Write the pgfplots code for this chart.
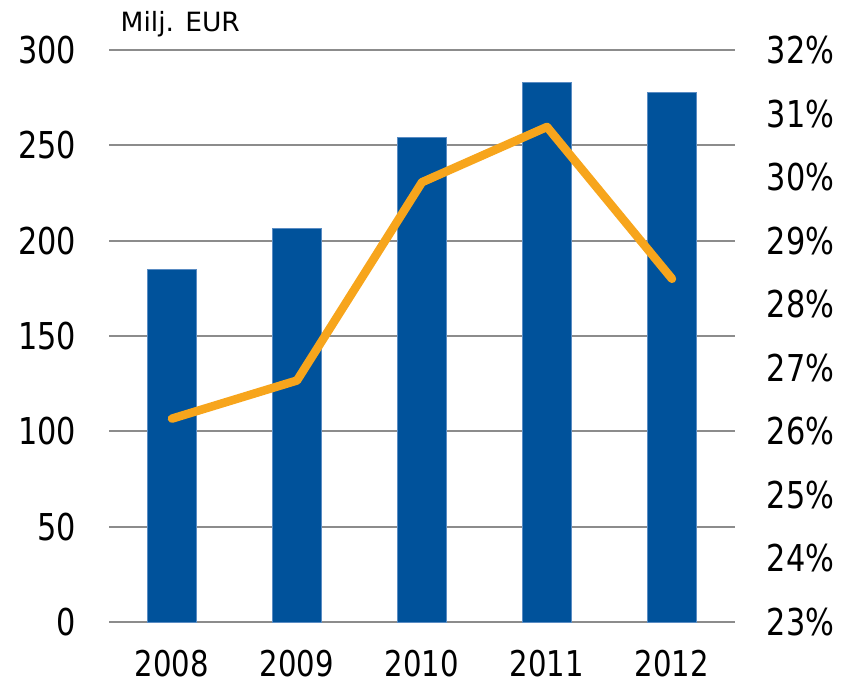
\documentclass[border=0pt]{standalone}
\usepackage{fontspec}
\setmainfont{DejaVu Sans}
\newfontfamily\tickfont[FakeStretch=0.82]{DejaVu Sans}
\usepackage{pgfplots}
\pgfplotsset{compat=1.18}

\definecolor{barblue}{RGB}{0,82,155}
\definecolor{baredge}{RGB}{90,140,195}
\definecolor{lineorange}{RGB}{247,165,28}
\definecolor{gridgray}{RGB}{140,140,140}

\begin{document}
\begin{tikzpicture}
  \path[use as bounding box] (-109.5pt,-64pt) rectangle (738.5pt,622pt);

  % bars, left axis
  \begin{axis}[
      at={(0,0)}, anchor=south west,
      scale only axis,
      width=625pt, height=572pt,
      xmin=-0.5, xmax=4.5,
      ymin=0, ymax=300,
      xtick={0,1,2,3,4},
      xticklabels={2008,2009,2010,2011,2012},
      ytick={0,50,100,150,200,250,300},
      yticklabels={0,50,100,150,200,250,300},
      axis line style={draw=none},
      tick style={draw=none},
      ymajorgrids=true,
      major grid style={gridgray, line width=1.8pt},
      xticklabel style={font=\tickfont\fontsize{35.5}{35.5}\selectfont, anchor=north, inner sep=0pt, yshift=-28pt},
      yticklabel style={font=\tickfont\fontsize{37}{37}\selectfont, anchor=east, inner sep=0pt, xshift=-33pt},
      clip=false,
    ]
    \addplot[ybar, bar width=49.5pt, fill=barblue, draw=baredge, line width=0.8pt]
      coordinates {(0,185.1) (1,206.6) (2,254.2) (3,283.0) (4,277.8)};
    \node[anchor=base west, inner sep=0pt, font=\fontsize{26.5}{26.5}\selectfont]
      at (rel axis cs:0,1) [xshift=11pt, yshift=18pt] {Milj. EUR};
  \end{axis}

  % line, right axis
  \begin{axis}[
      at={(0,0)}, anchor=south west,
      scale only axis,
      width=625pt, height=572pt,
      xmin=-0.5, xmax=4.5,
      ymin=23, ymax=32,
      axis x line=none,
      axis y line*=right,
      axis line style={draw=none},
      tick style={draw=none},
      ytick={23,24,25,26,27,28,29,30,31,32},
      yticklabels={23\%,24\%,25\%,26\%,27\%,28\%,29\%,30\%,31\%,32\%},
      yticklabel style={font=\tickfont\fontsize{37}{37}\selectfont, anchor=west, inner sep=0pt, xshift=32pt},
      clip=false,
    ]
    \addplot[lineorange, line width=8.5pt, line cap=round, line join=round, mark=none]
      coordinates {(0,26.2) (1,26.8) (2,29.92) (3,30.79) (4,28.4)};
  \end{axis}
\end{tikzpicture}
\end{document}
